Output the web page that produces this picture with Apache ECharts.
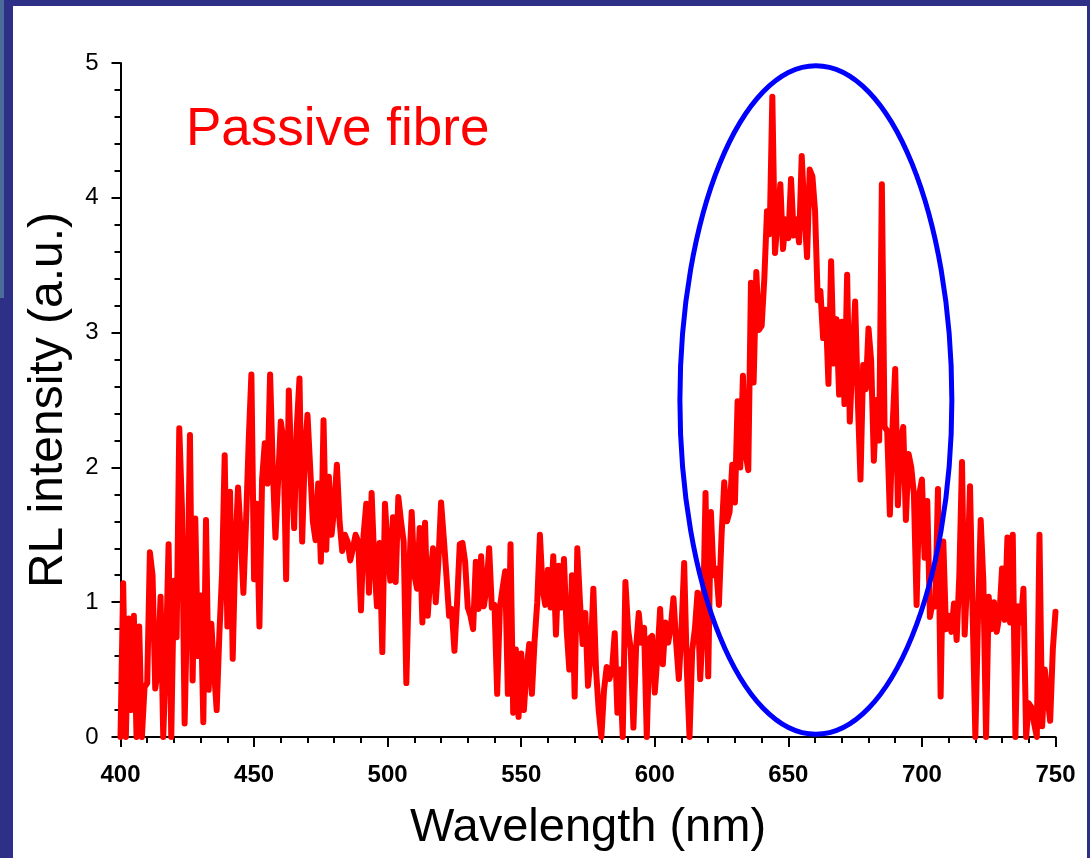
<!DOCTYPE html>
<html>
<head>
<meta charset="utf-8">
<title>Passive fibre RL spectrum</title>
<script src="https://cdn.jsdelivr.net/npm/echarts@6/dist/echarts.min.js"></script>
<style>
  html, body { margin: 0; padding: 0; background: #fff; }
  #main { width: 1090px; height: 858px; }
</style>
</head>
<body>
<div id="main"></div>
<script>
// wavelength axis: one reading per nm, 400..750
var startNm = 400;
var xTicks = [400, 450, 500, 550, 600, 650, 700, 750];
var yTicks = [0, 1, 2, 3, 4, 5];

// RL intensity (a.u.)
var intensity = [
  0.00, 1.14, 0.00, 0.88, 0.20, 0.90, 0.00, 0.82, 0.00, 0.37, // 400-409
  0.40, 1.37, 1.20, 0.36, 0.50, 1.04, 0.00, 0.60, 1.43, 0.00, // 410-419
  1.16, 0.74, 2.29, 1.70, 0.10, 1.00, 2.24, 0.42, 1.62, 0.60, // 420-429
  1.05, 0.11, 1.61, 0.35, 0.84, 0.50, 0.20, 0.76, 1.20, 2.09, // 430-439
  0.82, 1.82, 0.58, 1.40, 1.85, 1.50, 1.07, 1.60, 2.20, 2.69, // 440-449
  1.17, 1.73, 0.82, 1.91, 2.18, 1.88, 2.69, 2.00, 1.48, 1.90, // 450-459
  2.34, 2.20, 1.17, 2.57, 1.98, 1.55, 2.30, 2.66, 1.45, 2.11, // 460-469
  2.39, 2.00, 1.60, 1.46, 1.88, 1.30, 2.35, 1.39, 1.93, 1.50, // 470-479
  1.70, 2.02, 1.60, 1.38, 1.50, 1.45, 1.31, 1.40, 1.50, 1.45, // 480-489
  0.94, 1.50, 1.73, 1.07, 1.81, 1.30, 0.97, 1.44, 0.63, 1.73, // 490-499
  1.40, 1.16, 1.63, 1.15, 1.78, 1.60, 1.45, 0.40, 1.20, 1.67, // 500-509
  1.20, 1.10, 1.55, 0.85, 1.59, 0.90, 1.20, 1.40, 1.00, 1.30, // 510-519
  1.74, 1.48, 1.20, 0.90, 0.95, 0.64, 1.00, 1.43, 1.44, 1.30, // 520-529
  0.96, 0.90, 0.80, 1.30, 0.95, 1.34, 0.97, 1.10, 1.40, 0.96, // 530-539
  0.98, 0.32, 0.96, 1.10, 1.23, 0.32, 1.43, 0.18, 0.65, 0.15, // 540-549
  0.62, 0.20, 0.50, 0.69, 0.32, 0.71, 1.00, 1.50, 1.10, 0.98, // 550-559
  1.24, 0.96, 1.34, 0.76, 1.27, 0.96, 1.32, 0.80, 0.50, 1.20, // 560-569
  0.30, 1.40, 1.00, 0.69, 0.92, 0.38, 0.60, 1.10, 0.50, 0.20, // 570-579
  0.00, 0.35, 0.52, 0.43, 0.50, 0.77, 0.18, 0.50, 0.00, 1.15, // 580-589
  0.80, 0.65, 0.07, 0.66, 0.92, 0.70, 0.81, 0.00, 0.73, 0.75, // 590-599
  0.33, 0.60, 0.95, 0.54, 0.85, 0.70, 0.82, 1.03, 0.70, 0.43, // 600-609
  0.80, 1.29, 0.50, 0.00, 0.64, 0.80, 1.07, 0.43, 0.81, 1.81, // 610-619
  0.45, 1.67, 1.20, 1.25, 0.98, 1.50, 1.89, 1.60, 1.67, 2.02, // 620-629
  1.74, 2.49, 2.00, 2.68, 2.10, 1.98, 3.37, 2.63, 3.45, 3.02, // 630-639
  3.05, 3.40, 3.90, 3.73, 4.75, 3.59, 3.84, 4.10, 3.62, 3.84, // 640-649
  3.70, 4.14, 3.72, 3.84, 3.67, 4.31, 3.90, 3.56, 4.21, 4.16, // 650-659
  3.90, 3.24, 3.31, 2.96, 3.17, 2.62, 3.53, 2.77, 3.10, 2.54, // 660-669
  3.08, 2.47, 3.43, 2.34, 2.80, 3.23, 2.50, 1.91, 2.76, 2.58, // 670-679
  3.03, 2.79, 2.05, 2.50, 2.20, 4.10, 2.30, 2.27, 1.65, 2.30, // 680-689
  2.73, 1.72, 2.20, 2.30, 1.61, 2.10, 2.00, 1.80, 0.98, 1.80, // 690-699
  1.91, 1.33, 1.75, 0.89, 1.00, 0.97, 1.84, 0.30, 1.45, 0.80, // 700-709
  0.90, 0.78, 0.99, 0.72, 1.20, 2.04, 0.76, 1.20, 1.86, 0.90, // 710-719
  0.00, 0.90, 1.61, 1.15, 0.00, 1.04, 0.80, 1.00, 0.78, 0.90, // 720-729
  1.25, 0.87, 1.48, 0.85, 1.50, 0.00, 0.97, 0.85, 1.10, 0.00, // 730-739
  0.25, 0.22, 0.10, 0.00, 1.50, 0.08, 0.50, 0.30, 0.12, 0.65, // 740-749
  0.93                                                        // 750
];

// blue ellipse marking the RL band, in data units
var ellipseCenter = [660.3, 2.5];
var ellipseRadius = [50.9, 2.48];

var seriesData = [];
for (var i = 0; i < intensity.length; i++) {
  seriesData.push([startNm + i, intensity[i]]);
}

var font = 'Liberation Sans, Arial, sans-serif';
var navy = '#2e3088';

var myChart = echarts.init(document.getElementById('main'));

var option = {
  animation: false,
  backgroundColor: '#ffffff',
  textStyle: { fontFamily: font },
  grid: {
    left: 120.5,
    right: 34.5,
    top: 63,
    bottom: 121,
    containLabel: false
  },
  xAxis: {
    type: 'value',
    min: xTicks[0],
    max: xTicks[xTicks.length - 1],
    interval: 50,
    name: 'Wavelength (nm)',
    nameLocation: 'middle',
    nameGap: 68,
    nameTextStyle: { fontSize: 47, color: '#000', fontFamily: font },
    axisLine: { lineStyle: { color: '#000', width: 2 } },
    axisTick: { show: true, inside: false, length: 10, lineStyle: { color: '#000', width: 2 } },
    minorTick: { show: true, splitNumber: 5, length: 6, lineStyle: { color: '#000', width: 2 } },
    axisLabel: { fontSize: 24, fontWeight: 'bold', color: '#000', margin: 26, fontFamily: font },
    splitLine: { show: false }
  },
  yAxis: {
    type: 'value',
    min: yTicks[0],
    max: yTicks[yTicks.length - 1],
    interval: 1,
    name: 'RL intensity (a.u.)',
    nameLocation: 'middle',
    nameGap: 48,
    nameTextStyle: { fontSize: 48, color: '#000', fontFamily: font },
    axisLine: { show: true, lineStyle: { color: '#000', width: 2 } },
    axisTick: { show: true, inside: false, length: 9, lineStyle: { color: '#000', width: 2 } },
    minorTick: { show: true, splitNumber: 5, length: 6, lineStyle: { color: '#000', width: 2 } },
    axisLabel: { fontSize: 24, color: '#000', margin: 22, fontFamily: font },
    splitLine: { show: false }
  },
  series: [
    {
      name: 'Passive fibre',
      type: 'line',
      data: seriesData,
      showSymbol: false,
      symbol: 'none',
      clip: false,
      z: 3,
      lineStyle: { color: '#ff0000', width: 6, join: 'round', cap: 'round' }
    }
  ]
};

myChart.setOption(option);

// frame and annotations, placed after the axes exist
var c = myChart.convertToPixel({ xAxisIndex: 0, yAxisIndex: 0 }, ellipseCenter);
var edge = myChart.convertToPixel({ xAxisIndex: 0, yAxisIndex: 0 },
  [ellipseCenter[0] + ellipseRadius[0], ellipseCenter[1] + ellipseRadius[1]]);

myChart.setOption({
  graphic: [
    { type: 'rect', left: 0, top: 0, shape: { width: 1090, height: 6 }, style: { fill: navy }, silent: true },
    { type: 'rect', left: 0, top: 0, shape: { width: 13, height: 858 }, style: { fill: navy }, silent: true },
    { type: 'rect', left: 0, top: 0, shape: { width: 4, height: 298 }, style: { fill: '#4b6b98' }, silent: true },
    { type: 'rect', right: 0, top: 0, shape: { width: 3, height: 858 }, style: { fill: navy }, silent: true },
    {
      type: 'text', left: 186, top: 104, z: 10,
      style: { text: 'Passive fibre', fontSize: 53, fill: '#ff0000', fontFamily: font }
    },
    {
      type: 'ellipse', z: 100, silent: true,
      shape: { cx: c[0], cy: c[1], rx: edge[0] - c[0], ry: c[1] - edge[1] },
      style: { fill: 'none', stroke: '#0000ff', lineWidth: 5 }
    }
  ]
});
</script>
</body>
</html>
